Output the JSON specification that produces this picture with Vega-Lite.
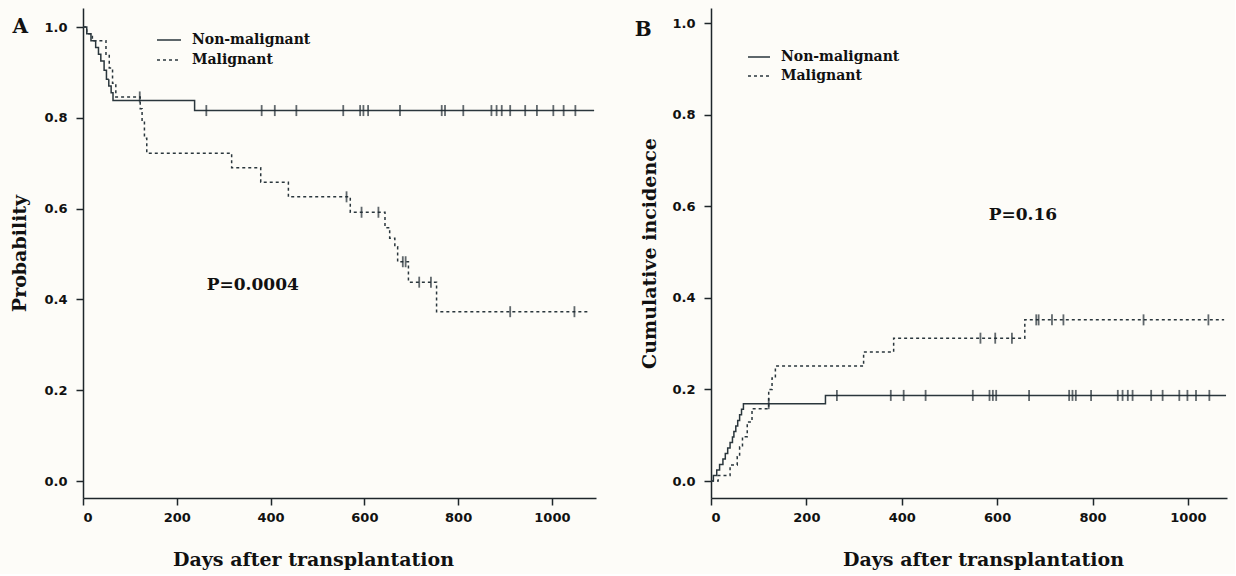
{
  "$schema": "https://vega.github.io/schema/vega-lite/v6.json",
  "background": "#fdfcf8",
  "padding": {"left": 10, "top": 8, "right": 5, "bottom": 5},
  "spacing": 36,
  "datasets": {
    "survLine": [
      {"group": "Non-malignant", "day": 0, "p": 1.0},
      {"group": "Non-malignant", "day": 8, "p": 0.985},
      {"group": "Non-malignant", "day": 17, "p": 0.97},
      {"group": "Non-malignant", "day": 27, "p": 0.955},
      {"group": "Non-malignant", "day": 33, "p": 0.94},
      {"group": "Non-malignant", "day": 38, "p": 0.925},
      {"group": "Non-malignant", "day": 45, "p": 0.905},
      {"group": "Non-malignant", "day": 50, "p": 0.885},
      {"group": "Non-malignant", "day": 55, "p": 0.87},
      {"group": "Non-malignant", "day": 60, "p": 0.855},
      {"group": "Non-malignant", "day": 64, "p": 0.838},
      {"group": "Non-malignant", "day": 238, "p": 0.816},
      {"group": "Non-malignant", "day": 1090, "p": 0.816},
      {"group": "Malignant", "day": 0, "p": 1.0},
      {"group": "Malignant", "day": 8, "p": 0.985},
      {"group": "Malignant", "day": 20, "p": 0.97},
      {"group": "Malignant", "day": 49, "p": 0.94},
      {"group": "Malignant", "day": 56, "p": 0.91},
      {"group": "Malignant", "day": 63, "p": 0.876},
      {"group": "Malignant", "day": 70, "p": 0.846},
      {"group": "Malignant", "day": 122, "p": 0.82},
      {"group": "Malignant", "day": 126, "p": 0.79},
      {"group": "Malignant", "day": 131, "p": 0.755},
      {"group": "Malignant", "day": 136, "p": 0.722},
      {"group": "Malignant", "day": 317, "p": 0.69},
      {"group": "Malignant", "day": 379, "p": 0.658},
      {"group": "Malignant", "day": 438, "p": 0.626},
      {"group": "Malignant", "day": 570, "p": 0.592},
      {"group": "Malignant", "day": 644, "p": 0.558},
      {"group": "Malignant", "day": 654, "p": 0.535},
      {"group": "Malignant", "day": 665, "p": 0.516},
      {"group": "Malignant", "day": 671, "p": 0.483},
      {"group": "Malignant", "day": 694, "p": 0.438},
      {"group": "Malignant", "day": 754, "p": 0.373},
      {"group": "Malignant", "day": 1078, "p": 0.373}
    ],
    "survCens": [
      {"group": "Non-malignant", "day": 263, "p": 0.816},
      {"group": "Non-malignant", "day": 381, "p": 0.816},
      {"group": "Non-malignant", "day": 409, "p": 0.816},
      {"group": "Non-malignant", "day": 455, "p": 0.816},
      {"group": "Non-malignant", "day": 555, "p": 0.816},
      {"group": "Non-malignant", "day": 591, "p": 0.816},
      {"group": "Non-malignant", "day": 598, "p": 0.816},
      {"group": "Non-malignant", "day": 608, "p": 0.816},
      {"group": "Non-malignant", "day": 676, "p": 0.816},
      {"group": "Non-malignant", "day": 765, "p": 0.816},
      {"group": "Non-malignant", "day": 772, "p": 0.816},
      {"group": "Non-malignant", "day": 811, "p": 0.816},
      {"group": "Non-malignant", "day": 871, "p": 0.816},
      {"group": "Non-malignant", "day": 882, "p": 0.816},
      {"group": "Non-malignant", "day": 893, "p": 0.816},
      {"group": "Non-malignant", "day": 911, "p": 0.816},
      {"group": "Non-malignant", "day": 943, "p": 0.816},
      {"group": "Non-malignant", "day": 968, "p": 0.816},
      {"group": "Non-malignant", "day": 1003, "p": 0.816},
      {"group": "Non-malignant", "day": 1025, "p": 0.816},
      {"group": "Non-malignant", "day": 1050, "p": 0.816},
      {"group": "Malignant", "day": 121, "p": 0.846},
      {"group": "Malignant", "day": 562, "p": 0.626},
      {"group": "Malignant", "day": 594, "p": 0.592},
      {"group": "Malignant", "day": 630, "p": 0.592},
      {"group": "Malignant", "day": 682, "p": 0.483},
      {"group": "Malignant", "day": 688, "p": 0.483},
      {"group": "Malignant", "day": 717, "p": 0.438},
      {"group": "Malignant", "day": 742, "p": 0.438},
      {"group": "Malignant", "day": 911, "p": 0.373},
      {"group": "Malignant", "day": 1048, "p": 0.373}
    ],
    "ciLine": [
      {"group": "Non-malignant", "day": 0, "p": 0},
      {"group": "Non-malignant", "day": 5, "p": 0.012},
      {"group": "Non-malignant", "day": 12, "p": 0.024},
      {"group": "Non-malignant", "day": 18, "p": 0.036},
      {"group": "Non-malignant", "day": 25, "p": 0.048},
      {"group": "Non-malignant", "day": 30, "p": 0.06},
      {"group": "Non-malignant", "day": 35, "p": 0.072},
      {"group": "Non-malignant", "day": 40, "p": 0.084},
      {"group": "Non-malignant", "day": 45, "p": 0.096},
      {"group": "Non-malignant", "day": 48, "p": 0.108},
      {"group": "Non-malignant", "day": 52, "p": 0.12},
      {"group": "Non-malignant", "day": 56, "p": 0.132},
      {"group": "Non-malignant", "day": 60, "p": 0.145},
      {"group": "Non-malignant", "day": 64, "p": 0.157},
      {"group": "Non-malignant", "day": 68, "p": 0.169},
      {"group": "Non-malignant", "day": 240, "p": 0.187},
      {"group": "Non-malignant", "day": 1080, "p": 0.187},
      {"group": "Malignant", "day": 0, "p": 0},
      {"group": "Malignant", "day": 15, "p": 0.012},
      {"group": "Malignant", "day": 40, "p": 0.035},
      {"group": "Malignant", "day": 55, "p": 0.053},
      {"group": "Malignant", "day": 60, "p": 0.075},
      {"group": "Malignant", "day": 66, "p": 0.097},
      {"group": "Malignant", "day": 76, "p": 0.129},
      {"group": "Malignant", "day": 86, "p": 0.158},
      {"group": "Malignant", "day": 121, "p": 0.2},
      {"group": "Malignant", "day": 128, "p": 0.225},
      {"group": "Malignant", "day": 135, "p": 0.251},
      {"group": "Malignant", "day": 320, "p": 0.282},
      {"group": "Malignant", "day": 383, "p": 0.312},
      {"group": "Malignant", "day": 658, "p": 0.352},
      {"group": "Malignant", "day": 1076, "p": 0.352}
    ],
    "ciCens": [
      {"group": "Non-malignant", "day": 121, "p": 0.169},
      {"group": "Non-malignant", "day": 264, "p": 0.187},
      {"group": "Non-malignant", "day": 377, "p": 0.187},
      {"group": "Non-malignant", "day": 404, "p": 0.187},
      {"group": "Non-malignant", "day": 450, "p": 0.187},
      {"group": "Non-malignant", "day": 549, "p": 0.187},
      {"group": "Non-malignant", "day": 584, "p": 0.187},
      {"group": "Non-malignant", "day": 591, "p": 0.187},
      {"group": "Non-malignant", "day": 598, "p": 0.187},
      {"group": "Non-malignant", "day": 667, "p": 0.187},
      {"group": "Non-malignant", "day": 751, "p": 0.187},
      {"group": "Non-malignant", "day": 758, "p": 0.187},
      {"group": "Non-malignant", "day": 765, "p": 0.187},
      {"group": "Non-malignant", "day": 797, "p": 0.187},
      {"group": "Non-malignant", "day": 853, "p": 0.187},
      {"group": "Non-malignant", "day": 863, "p": 0.187},
      {"group": "Non-malignant", "day": 874, "p": 0.187},
      {"group": "Non-malignant", "day": 884, "p": 0.187},
      {"group": "Non-malignant", "day": 923, "p": 0.187},
      {"group": "Non-malignant", "day": 947, "p": 0.187},
      {"group": "Non-malignant", "day": 982, "p": 0.187},
      {"group": "Non-malignant", "day": 999, "p": 0.187},
      {"group": "Non-malignant", "day": 1017, "p": 0.187},
      {"group": "Non-malignant", "day": 1045, "p": 0.187},
      {"group": "Malignant", "day": 565, "p": 0.312},
      {"group": "Malignant", "day": 596, "p": 0.312},
      {"group": "Malignant", "day": 631, "p": 0.312},
      {"group": "Malignant", "day": 682, "p": 0.352},
      {"group": "Malignant", "day": 687, "p": 0.352},
      {"group": "Malignant", "day": 715, "p": 0.352},
      {"group": "Malignant", "day": 739, "p": 0.352},
      {"group": "Malignant", "day": 907, "p": 0.352},
      {"group": "Malignant", "day": 1043, "p": 0.352}
    ],
    "panelA": [{"label": "A", "day": -134, "p": 1.0}],
    "panelB": [{"label": "B", "day": -142, "p": 0.985}],
    "pA": [{"label": "P=0.0004", "day": 362, "p": 0.432}],
    "pB": [{"label": "P=0.16", "day": 654, "p": 0.581}]
  },
  "config": {
    "view": {"stroke": null},
    "axis": {
      "grid": false,
      "domainColor": "#1e262a",
      "domainWidth": 1.5,
      "tickColor": "#1e262a",
      "tickWidth": 1.5,
      "tickSize": 7,
      "labelFont": "DejaVu Sans",
      "labelFontWeight": "bold",
      "labelFontSize": 13,
      "labelColor": "#111",
      "titleFont": "DejaVu Serif",
      "titleFontWeight": "bold",
      "titleFontSize": 19,
      "titleColor": "#111"
    }
  },
  "resolve": {
    "scale": {"x": "independent", "y": "independent", "strokeDash": "independent"},
    "legend": {"strokeDash": "independent"}
  },
  "hconcat": [
    {
      "width": 513,
      "height": 490,
      "layer": [
        {
          "data": {"name": "survLine"},
          "mark": {"type": "line", "interpolate": "step-after", "strokeWidth": 1.5, "color": "#2a363c"},
          "encoding": {
            "x": {"field": "day", "type": "quantitative",
              "scale": {"domain": [0, 1094], "nice": false, "zero": false},
              "axis": {"values": [0, 200, 400, 600, 800, 1000], "format": "d", "title": "Days after transplantation", "labelPadding": 6, "titlePadding": 26, "titleX": 230}},
            "y": {"field": "p", "type": "quantitative",
              "scale": {"domain": [-0.0374, 1.0419], "nice": false, "zero": false},
              "axis": {"values": [0, 0.2, 0.4, 0.6, 0.8, 1.0], "format": ".1f", "title": "Probability", "labelPadding": 9, "titlePadding": 14}},
            "strokeDash": {"field": "group", "type": "nominal",
              "scale": {"domain": ["Non-malignant", "Malignant"], "range": [[1, 0], [3, 3]]},
              "legend": {"orient": "none", "legendX": 73, "legendY": 19, "title": null, "symbolType": "stroke", "symbolSize": 576, "symbolStrokeWidth": 1.5, "symbolStrokeColor": "#2a363c", "labelFont": "DejaVu Serif", "labelFontWeight": "bold", "labelFontSize": 14, "labelColor": "#111", "labelOffset": 10, "rowPadding": 0, "padding": 0}}
          }
        },
        {
          "data": {"name": "survCens"},
          "mark": {"type": "tick", "orient": "vertical", "size": 11, "thickness": 1.8, "color": "#1e2a30"},
          "encoding": {
            "x": {"field": "day", "type": "quantitative"},
            "y": {"field": "p", "type": "quantitative"}
          }
        },
        {
          "data": {"name": "panelA"},
          "mark": {"type": "text", "font": "DejaVu Serif", "fontWeight": "bold", "fontSize": 20, "baseline": "middle", "color": "#111"},
          "encoding": {
            "x": {"field": "day", "type": "quantitative"},
            "y": {"field": "p", "type": "quantitative"},
            "text": {"field": "label"}
          }
        },
        {
          "data": {"name": "pA"},
          "mark": {"type": "text", "font": "DejaVu Serif", "fontWeight": "bold", "fontSize": 17, "baseline": "middle", "color": "#111"},
          "encoding": {
            "x": {"field": "day", "type": "quantitative"},
            "y": {"field": "p", "type": "quantitative"},
            "text": {"field": "label"}
          }
        }
      ]
    },
    {
      "width": 516,
      "height": 490,
      "layer": [
        {
          "data": {"name": "ciLine"},
          "mark": {"type": "line", "interpolate": "step-after", "strokeWidth": 1.5, "color": "#2a363c"},
          "encoding": {
            "x": {"field": "day", "type": "quantitative",
              "scale": {"domain": [0, 1082], "nice": false, "zero": false},
              "axis": {"values": [0, 200, 400, 600, 800, 1000], "format": "d", "title": "Days after transplantation", "labelPadding": 6, "titlePadding": 26, "titleX": 272}},
            "y": {"field": "p", "type": "quantitative",
              "scale": {"domain": [-0.037, 1.033], "nice": false, "zero": false},
              "axis": {"values": [0, 0.2, 0.4, 0.6, 0.8, 1.0], "format": ".1f", "title": "Cumulative incidence", "labelPadding": 9, "titlePadding": 12}},
            "strokeDash": {"field": "group", "type": "nominal",
              "scale": {"domain": ["Non-malignant", "Malignant"], "range": [[1, 0], [3, 3]]},
              "legend": {"orient": "none", "legendX": 36, "legendY": 37, "title": null, "symbolType": "stroke", "symbolSize": 484, "symbolStrokeWidth": 1.5, "symbolStrokeColor": "#2a363c", "labelFont": "DejaVu Serif", "labelFontWeight": "bold", "labelFontSize": 14, "labelColor": "#111", "labelOffset": 10, "rowPadding": 0, "padding": 0}}
          }
        },
        {
          "data": {"name": "ciCens"},
          "mark": {"type": "tick", "orient": "vertical", "size": 11, "thickness": 1.8, "color": "#1e2a30"},
          "encoding": {
            "x": {"field": "day", "type": "quantitative"},
            "y": {"field": "p", "type": "quantitative"}
          }
        },
        {
          "data": {"name": "panelB"},
          "mark": {"type": "text", "font": "DejaVu Serif", "fontWeight": "bold", "fontSize": 20, "baseline": "middle", "color": "#111"},
          "encoding": {
            "x": {"field": "day", "type": "quantitative"},
            "y": {"field": "p", "type": "quantitative"},
            "text": {"field": "label"}
          }
        },
        {
          "data": {"name": "pB"},
          "mark": {"type": "text", "font": "DejaVu Serif", "fontWeight": "bold", "fontSize": 17, "baseline": "middle", "color": "#111"},
          "encoding": {
            "x": {"field": "day", "type": "quantitative"},
            "y": {"field": "p", "type": "quantitative"},
            "text": {"field": "label"}
          }
        }
      ]
    }
  ]
}
